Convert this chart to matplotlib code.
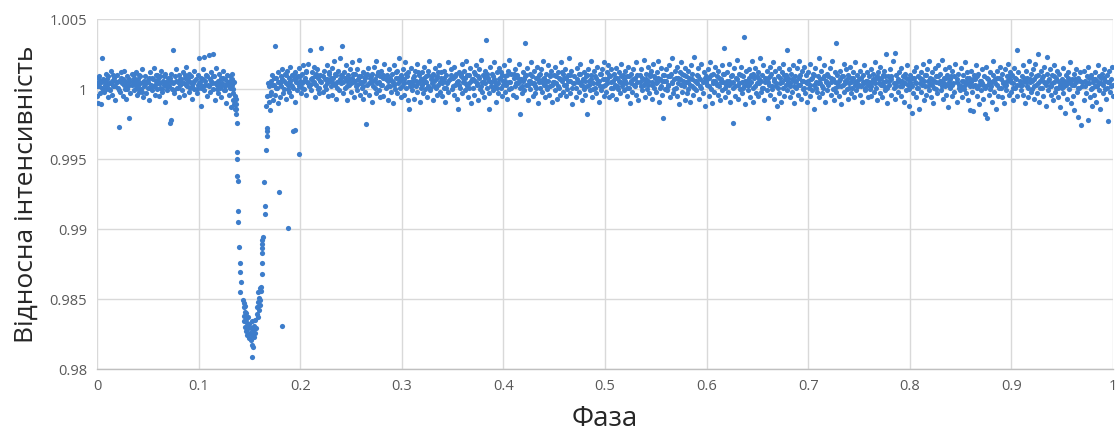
import numpy as np
import matplotlib
matplotlib.use("Agg")
import matplotlib.pyplot as plt

# out-of-transit points: (phase * 1000, (flux - 1) * 10000)
baseline = [
    (0,4),(0,-5),(1,8),(1,-10),(2,2),(3,6),(3,-3),(4,-11),(5,22),(5,1),(6,7),(7,-2),(8,5),(9,11),(9,0),
    (10,3),(11,-6),(11,9),(12,4),(13,-1),(14,13),(15,6),(15,-4),(16,2),(17,8),(18,-8),(19,5),
    (20,10),(21,1),(22,-27),(22,6),(23,-2),(24,12),(25,4),(26,-5),(26,7),(27,13),(28,0),(29,3),(29,-7),
    (30,9),(31,2),(32,-21),(32,5),(33,-3),(34,11),(35,6),(36,-1),(36,8),(37,3),(38,12),(39,-4),(39,1),
    (40,7),(41,-2),(41,10),(42,4),(43,0),(44,14),(45,5),(45,-6),(46,2),(47,9),(48,-3),(49,6),
    (50,1),(51,8),(51,-8),(52,12),(53,3),(54,-1),(55,7),(56,15),(56,2),(57,-4),(58,6),(59,10),(59,0),
    (60,4),(61,-5),(62,9),(62,1),(63,13),(64,-2),(65,6),(66,3),(67,-9),(67,11),(68,5),(69,-1),
    (70,8),(71,2),(72,-24),(72,6),(73,-22),(73,11),(74,0),(75,28),(75,4),(76,-3),(77,9),(78,14),(79,1),
    (80,5),(81,-6),(81,10),(82,3),(83,7),(84,-1),(85,12),(86,4),(86,-4),(87,8),(88,16),(89,2),
    (90,6),(91,-2),(91,11),(92,1),(93,9),(94,-7),(95,4),(96,13),(96,0),(97,7),(98,-3),(99,10),(99,3),
    (100,22),(101,5),(102,-12),(102,8),(103,2),(104,14),(105,23),(105,-1),(106,6),(107,10),(108,-5),(109,3),
    (110,24),(111,7),(111,-2),(112,12),(113,4),(114,25),(114,0),(115,9),(116,-8),(117,15),(118,3),(119,6),(119,-3),
    (120,11),(121,1),(122,8),(122,-6),(123,4),(124,13),(125,-1),(126,7),(126,2),(127,-10),(128,10),(129,5),
    (130,-4),(131,9),(131,1),(132,6),(132,-13),(133,3),(133,11),(134,-8),(134,0),(135,-11),(135,5),(136,-14),(136,-5),
    (166,-12),(167,-5),(168,4),(169,-9),(169,2),
    (170,-15),(171,6),(171,-2),(172,10),(173,-8),(174,3),(175,31),(175,-4),(176,8),(177,1),(178,12),(178,-10),(179,5),
    (180,-6),(181,9),(181,2),(182,14),(183,-3),(184,6),(185,11),(186,-7),(186,4),(187,13),(188,0),(189,8),(189,-2),
    (190,16),(191,3),(191,-5),(192,10),(193,1),(194,7),(195,-9),(195,12),(196,5),(197,-1),(198,9),(199,15),(199,2),
    (200,6),(201,-3),(202,11),(202,4),(203,17),(204,0),(205,8),(206,13),(206,-4),(207,5),(208,18),(209,2),
    (210,28),(211,7),(211,-1),(212,12),(213,4),(214,16),(215,9),(215,-6),(216,3),(217,14),(218,8),(219,1),(219,-3),
    (220,10),(221,29),(221,5),(222,-2),(223,13),(224,7),(225,0),(226,17),(226,4),(227,-5),(228,11),(229,6),
    (230,2),(231,15),(231,-4),(232,8),(233,20),(234,3),(235,-7),(235,10),(236,5),(237,13),(238,-1),(239,7),(239,22),
    (240,4),(241,31),(241,9),(242,-3),(243,12),(244,1),(245,17),(246,6),(246,-8),(247,10),(248,3),(249,14),
    (250,-2),(251,8),(251,19),(252,5),(253,-6),(254,11),(255,2),(256,14),(256,-1),(257,7),(258,21),(259,4),(259,-4),
    (260,9),(261,1),(262,12),(262,-7),(263,6),(264,-2),(265,-25),(265,10),(266,3),(267,15),(268,-4),(269,8),
    (270,5),(271,-9),(271,11),(272,2),(273,16),(274,7),(275,-3),(275,20),(276,4),(277,12),(278,-1),(279,9),(279,-6),
    (280,13),(281,3),(282,-5),(282,8),(283,18),(284,1),(285,10),(286,-8),(286,6),(287,14),(288,2),(289,-2),
    (290,11),(291,5),(291,-10),(292,17),(293,0),(294,8),(295,13),(295,-3),(296,4),(297,22),(298,6),(299,-6),(299,10),
    (300,2),(301,14),(302,-4),(302,7),(303,19),(304,1),(305,9),(306,-8),(306,12),(307,-14),(308,5),(309,15),
    (310,-1),(311,8),(311,3),(312,-7),(313,13),(314,6),(315,-2),(315,18),(316,4),(317,10),(318,-9),(319,7),(319,1),
    (320,12),(321,-3),(322,16),(322,5),(323,0),(324,9),(325,-6),(326,13),(326,2),(327,20),(328,-1),(329,7),
    (330,4),(331,11),(331,-8),(332,6),(333,15),(334,1),(335,-4),(335,9),(336,3),(337,17),(338,-2),(339,8),(339,12),
    (340,-5),(341,6),(342,13),(342,1),(343,-9),(344,10),(345,4),(346,19),(346,-2),(347,7),(348,14),(349,0),
    (350,8),(351,-4),(351,16),(352,3),(353,11),(354,-7),(355,-14),(355,6),(356,12),(357,1),(358,9),(359,-3),(359,18),
    (360,5),(361,13),(362,-1),(362,8),(363,20),(364,2),(365,-6),(366,10),(366,4),(367,15),(368,-10),(369,7),
    (370,1),(371,12),(371,-4),(372,6),(373,17),(374,3),(375,-8),(375,9),(376,14),(377,0),(378,21),(379,5),(379,-2),
    (380,10),(381,-6),(382,4),(382,13),(383,35),(384,1),(385,8),(386,-3),(386,-14),(387,16),(388,5),(389,11),
    (390,-1),(391,7),(391,19),(392,2),(393,-9),(394,12),(395,4),(395,-3),(396,15),(397,8),(398,1),(399,-5),(399,10),
    (400,6),(401,17),(402,-2),(402,9),(403,3),(404,-7),(405,13),(406,0),(406,21),(407,5),(408,11),(409,-4),
    (410,8),(411,2),(411,14),(412,-6),(413,10),(414,4),(415,18),(416,-18),(416,1),(417,7),(418,-3),(419,12),(419,6),
    (420,-1),(421,33),(421,9),(422,3),(423,15),(424,-8),(425,6),(426,11),(426,0),(427,19),(428,4),(429,-5),
    (430,13),(431,2),(431,-3),(432,8),(433,16),(434,-10),(435,5),(435,10),(436,1),(437,14),(438,-2),(439,7),(439,20),
    (440,3),(441,-6),(442,11),(442,6),(443,0),(444,17),(445,-4),(446,9),(446,2),(447,13),(448,-9),(449,5),
    (450,10),(451,-1),(451,16),(452,4),(453,-7),(454,12),(455,1),(455,8),(456,-4),(457,19),(458,6),(459,-2),(459,11),
    (460,3),(461,14),(462,-5),(462,8),(463,0),(464,10),(465,22),(466,-3),(466,6),(467,13),(468,-11),(469,4),
    (470,9),(471,1),(471,-6),(472,15),(473,5),(474,-2),(475,11),(475,18),(476,3),(477,-8),(478,7),(479,12),(479,0),
    (480,-4),(481,9),(482,-18),(482,2),(483,14),(484,6),(485,-1),(486,10),(486,20),(487,-6),(488,4),(489,13),
    (490,1),(491,-3),(491,8),(492,16),(493,5),(494,-9),(495,11),(495,2),(496,-1),(497,14),(498,7),(499,-5),(499,19),
    (500,7),(501,-2),(502,12),(502,4),(503,17),(504,-6),(505,9),(506,1),(506,14),(507,-4),(508,6),(509,11),
    (510,3),(511,15),(511,-7),(512,8),(513,0),(514,12),(515,5),(515,-3),(516,18),(517,2),(518,10),(519,-1),(519,7),
    (520,13),(521,4),(522,-5),(522,9),(523,16),(524,1),(525,-10),(526,6),(526,11),(527,-2),(528,14),(529,3),
    (530,8),(531,-4),(531,19),(532,5),(533,-8),(534,10),(535,2),(535,14),(536,-1),(537,7),(538,21),(539,4),(539,-6),
    (540,11),(541,0),(542,16),(542,6),(543,-3),(544,9),(545,13),(546,-7),(546,3),(547,18),(548,1),(549,8),
    (550,-2),(551,12),(551,5),(552,20),(553,-9),(554,7),(555,2),(555,15),(556,-4),(557,-21),(557,10),(558,6),(559,0),
    (560,14),(561,-1),(562,9),(562,3),(563,17),(564,-6),(565,11),(566,4),(566,22),(567,-3),(568,7),(569,13),
    (570,1),(571,16),(571,-5),(572,8),(573,-11),(574,12),(575,3),(575,19),(576,-2),(577,6),(578,10),(579,-8),(579,15),
    (580,5),(581,-3),(582,13),(582,0),(583,8),(584,-9),(585,17),(586,2),(586,11),(587,-4),(588,23),(589,6),
    (590,-1),(591,10),(591,4),(592,15),(593,-7),(594,7),(595,1),(595,18),(596,-3),(597,12),(598,-12),(599,5),(599,9),
    (600,3),(601,14),(602,-5),(602,8),(603,19),(604,0),(605,-10),(606,11),(606,6),(607,-2),(608,16),(609,4),
    (610,9),(611,-4),(611,13),(612,2),(613,-8),(614,7),(615,17),(615,-1),(616,5),(617,29),(617,11),(618,-6),(619,3),
    (620,12),(621,-2),(622,6),(622,18),(623,-9),(624,4),(625,10),(626,-24),(626,1),(627,15),(628,-5),(629,8),
    (630,21),(631,3),(631,-7),(632,11),(633,0),(634,16),(635,5),(635,-3),(636,9),(637,37),(637,2),(638,-11),(639,13),
    (640,6),(641,-1),(642,14),(642,3),(643,-6),(644,10),(645,20),(646,1),(646,-9),(647,8),(648,15),(649,-3),
    (650,4),(651,12),(651,-5),(652,7),(653,22),(654,-2),(655,10),(655,1),(656,17),(657,-8),(658,5),(659,13),(659,-1),
    (660,-21),(660,8),(661,3),(662,16),(662,-4),(663,11),(664,0),(665,19),(666,-7),(666,6),(667,13),(668,2),(669,-12),
    (670,9),(671,-3),(671,15),(672,4),(673,-9),(674,12),(675,1),(675,18),(676,-5),(677,7),(678,10),(679,28),(679,-1),
    (680,5),(681,14),(682,-6),(682,2),(683,11),(684,-2),(685,17),(686,6),(686,-10),(687,9),(688,1),(689,15),
    (690,-4),(691,8),(691,20),(692,3),(693,-7),(694,13),(695,0),(695,6),(696,16),(697,-3),(698,10),(699,4),(699,-9),
    (700,12),(701,1),(702,-5),(702,18),(703,7),(704,-1),(705,11),(706,3),(706,-14),(707,15),(708,5),(709,-2),
    (710,9),(711,22),(711,-6),(712,4),(713,13),(714,-3),(715,8),(715,1),(716,17),(717,-9),(718,6),(719,11),(719,-1),
    (720,3),(721,15),(722,-4),(722,8),(723,20),(724,0),(725,-8),(726,12),(726,5),(727,33),(727,-2),(728,10),(729,2),
    (730,-5),(731,13),(731,7),(732,-11),(733,9),(734,3),(735,18),(735,-2),(736,6),(737,14),(738,0),(739,-7),(739,10),
    (740,4),(741,16),(742,-3),(742,8),(743,1),(744,12),(745,-6),(746,19),(746,5),(747,-1),(748,10),(749,2),
    (750,7),(751,-4),(751,13),(752,2),(753,-9),(754,10),(755,4),(755,17),(756,-1),(757,6),(758,12),(759,-6),(759,3),
    (760,9),(761,0),(762,14),(762,-5),(763,5),(764,11),(765,-2),(766,7),(766,19),(767,1),(768,-8),(769,12),
    (770,4),(771,-3),(771,16),(772,8),(773,-6),(774,10),(775,2),(775,13),(776,-1),(777,25),(777,6),(778,-10),(779,9),
    (780,3),(781,14),(782,-4),(782,7),(783,20),(784,1),(785,26),(785,-7),(786,10),(787,5),(788,-2),(789,12),
    (790,6),(791,-5),(791,15),(792,2),(793,9),(794,-9),(795,11),(795,4),(796,-1),(797,17),(798,7),(799,-12),(799,0),
    (800,10),(801,3),(802,-17),(802,8),(803,-3),(804,13),(805,5),(806,-6),(806,16),(807,1),(808,9),(809,-14),
    (810,4),(811,12),(811,-2),(812,7),(813,18),(814,-8),(815,2),(815,10),(816,-4),(817,14),(818,6),(819,-1),(819,20),
    (820,8),(821,-6),(822,3),(822,12),(823,-10),(824,6),(825,15),(826,0),(826,9),(827,-3),(828,17),(829,4),
    (830,11),(831,-1),(831,6),(832,21),(833,-7),(834,8),(835,2),(835,14),(836,-4),(837,10),(838,-13),(839,5),(839,16),
    (840,1),(841,9),(842,-5),(842,13),(843,4),(844,-2),(845,18),(846,7),(846,-9),(847,11),(848,3),(849,-1),
    (850,15),(851,6),(851,-6),(852,10),(853,0),(854,19),(855,-3),(855,5),(856,12),(857,-8),(858,8),(859,2),(859,-15),
    (860,13),(861,-2),(862,7),(862,-16),(863,10),(864,3),(865,17),(866,-5),(866,1),(867,11),(868,-11),(869,6),
    (870,-1),(871,14),(871,4),(872,-7),(873,9),(874,-18),(875,2),(875,16),(876,-21),(877,7),(878,-4),(879,12),(879,0),
    (880,5),(881,-9),(882,10),(882,20),(883,-2),(884,7),(885,-14),(886,13),(886,3),(887,-5),(888,8),(889,16),
    (890,1),(891,-6),(891,11),(892,5),(893,-10),(894,14),(895,3),(895,-1),(896,9),(897,18),(898,-4),(899,7),(899,12),
    (900,-2),(901,10),(902,4),(902,-8),(903,15),(904,1),(905,7),(906,28),(906,-5),(907,12),(908,3),(909,-1),
    (910,9),(911,17),(911,-4),(912,6),(913,-10),(914,13),(915,2),(915,8),(916,-6),(917,20),(918,5),(919,-2),(919,11),
    (920,0),(921,14),(922,-7),(922,7),(923,18),(924,3),(925,-3),(926,10),(926,25),(927,-9),(928,6),(929,13),
    (930,1),(931,-5),(931,9),(932,16),(933,4),(934,-12),(935,11),(935,23),(936,-1),(937,7),(938,14),(939,-4),(939,2),
    (940,10),(941,-8),(942,5),(942,17),(943,-2),(944,8),(945,13),(946,-6),(946,1),(947,11),(948,-13),(949,4),
    (950,7),(951,15),(951,-3),(952,2),(953,-17),(954,10),(955,5),(955,-7),(956,12),(957,0),(958,19),(959,-10),(959,6),
    (960,3),(961,-5),(962,11),(962,-15),(963,7),(964,14),(965,-2),(966,8),(966,-20),(967,1),(968,12),(969,-26),
    (970,5),(971,-8),(971,13),(972,2),(973,-3),(974,9),(975,-22),(975,16),(976,4),(977,-6),(978,10),(979,1),(979,-12),
    (980,7),(981,-4),(982,12),(982,2),(983,-9),(984,6),(985,17),(986,-1),(986,9),(987,-14),(988,4),(989,11),
    (990,-3),(991,8),(991,14),(992,0),(993,-7),(994,10),(995,-23),(995,5),(996,13),(997,-2),(998,7),(999,16),(1000,3),(1000,-5),
]

# dense core of the baseline, same units
baseline_core = [
    (0,2),(2,9),(4,5),(6,-1),(8,3),(10,7),(12,0),(14,4),(16,10),(18,2),
    (20,5),(22,-1),(24,8),(27,3),(28,6),(30,0),(32,7),(34,3),(36,11),(38,5),
    (40,2),(42,9),(44,-2),(46,6),(48,4),(50,5),(52,1),(54,8),(57,3),(58,10),
    (60,7),(62,4),(64,0),(66,9),(68,2),(70,3),(72,8),(74,5),(76,-1),(78,6),
    (80,1),(82,7),(84,4),(87,10),(88,3),(90,8),(92,5),(94,2),(96,6),(98,0),
    (100,4),(102,1),(104,7),(106,3),(108,9),(110,2),(112,6),(114,9),(116,4),(118,0),
    (120,5),(122,2),(124,8),(126,-1),(128,4),(130,3),(131,6),(132,1),(133,7),(134,-3),
    (170,-4),(172,3),(174,8),(176,1),(178,5),(180,4),(182,7),(184,0),(186,10),(188,3),
    (190,6),(192,2),(194,11),(196,8),(198,4),(200,9),(202,1),(204,6),(206,12),(208,4),
    (210,3),(212,8),(214,5),(216,11),(218,0),(220,6),(222,9),(224,2),(226,7),(228,12),
    (230,8),(232,4),(234,11),(236,1),(238,6),(240,10),(242,5),(244,8),(246,2),(248,7),
    (250,4),(252,11),(254,6),(256,3),(258,9),(260,5),(262,2),(264,8),(266,11),(268,4),
    (270,9),(272,6),(274,1),(276,10),(278,5),(280,3),(282,10),(284,7),(286,2),(288,8),
    (290,6),(292,3),(294,12),(296,8),(298,1),(300,8),(302,4),(304,11),(306,5),(308,2),
    (310,5),(312,9),(314,2),(316,12),(318,6),(320,3),(322,8),(324,5),(326,10),(328,1),
    (330,9),(332,2),(334,7),(336,12),(338,5),(340,4),(342,8),(344,1),(346,6),(348,10),
    (350,2),(352,9),(354,5),(356,3),(358,11),(360,8),(362,4),(364,10),(366,1),(368,6),
    (370,7),(372,11),(374,4),(376,8),(378,2),(380,5),(382,8),(384,11),(386,6),(388,2),
    (390,9),(392,5),(394,1),(396,7),(398,12),(400,3),(402,6),(404,10),(406,5),(408,1),
    (410,11),(412,4),(414,8),(416,6),(418,2),(420,7),(422,10),(424,3),(426,6),(428,9),
    (430,4),(432,1),(434,7),(436,11),(438,5),(440,8),(442,2),(444,6),(446,10),(448,3),
    (450,5),(452,9),(454,2),(456,7),(458,12),(460,8),(462,3),(464,6),(466,10),(468,1),
    (470,4),(472,7),(474,11),(476,5),(478,2),(480,6),(482,10),(484,3),(486,7),(488,0),
    (490,9),(492,4),(494,6),(496,11),(498,2),(500,3),(502,7),(504,10),(506,5),(508,1),
    (510,8),(512,2),(514,6),(516,9),(518,4),(520,6),(522,1),(524,9),(526,4),(528,7),
    (530,2),(532,10),(534,5),(536,8),(538,3),(540,7),(542,3),(544,11),(546,5),(548,9),
    (550,4),(552,8),(554,1),(556,6),(558,10),(560,6),(562,2),(564,9),(566,5),(568,0),
    (570,8),(572,4),(574,7),(576,11),(578,2),(580,9),(582,5),(584,3),(586,7),(588,1),
    (590,6),(592,9),(594,2),(596,5),(598,8),(600,7),(602,2),(604,10),(606,4),(608,6),
    (610,3),(612,8),(614,5),(616,11),(618,1),(620,6),(622,3),(624,9),(626,5),(628,2),
    (630,7),(632,4),(634,10),(636,1),(638,6),(640,3),(642,8),(644,5),(646,11),(648,2),
    (650,9),(652,4),(654,6),(656,1),(658,8),(660,5),(662,9),(664,2),(666,7),(668,4),
    (670,1),(672,8),(674,5),(676,10),(678,3),(680,8),(682,4),(684,7),(686,2),(688,6),
    (690,3),(692,10),(694,6),(696,1),(698,5),(700,6),(702,3),(704,8),(706,10),(708,1),
    (710,4),(712,7),(714,2),(716,9),(718,5),(720,9),(722,5),(724,7),(726,1),(728,4),
    (730,6),(732,2),(734,9),(736,4),(738,7),(740,1),(742,5),(744,8),(746,3),(748,6),
    (750,3),(752,8),(754,5),(756,1),(758,6),(760,5),(762,2),(764,7),(766,4),(768,9),
    (770,7),(772,3),(774,5),(776,9),(778,1),(780,6),(782,9),(784,4),(786,2),(788,7),
    (790,2),(792,6),(794,4),(796,8),(798,3),(800,5),(802,2),(804,8),(806,4),(808,1),
    (810,8),(812,3),(814,6),(816,10),(818,2),(820,4),(822,7),(824,1),(826,5),(828,9),
    (830,6),(832,2),(834,4),(836,8),(838,3),(840,7),(842,3),(844,9),(846,5),(848,1),
    (850,2),(852,6),(854,3),(856,8),(858,4),(860,5),(862,2),(864,7),(866,9),(868,3),
    (870,6),(872,3),(874,1),(876,8),(878,4),(880,2),(882,6),(884,4),(886,8),(888,1),
    (890,7),(892,4),(894,2),(896,6),(898,9),(900,5),(902,1),(904,8),(906,3),(908,6),
    (910,3),(912,8),(914,5),(916,1),(918,7),(920,6),(922,2),(924,9),(926,4),(928,1),
    (930,8),(932,5),(934,3),(936,6),(938,2),(940,4),(942,9),(944,1),(946,6),(948,3),
    (950,1),(952,6),(954,3),(956,8),(958,4),(960,7),(962,3),(964,5),(966,1),(968,6),
    (970,2),(972,6),(974,4),(976,8),(978,0),(980,5),(982,7),(984,2),(986,4),(988,8),
    (990,3),(992,6),(994,1),(996,5),(998,2),
]

# transit points
dip_phase = [
    0.1365, 0.1368, 0.1370, 0.1372, 0.1378, 0.1381, 0.1381, 0.1382, 0.1388, 0.1387,
    0.1389, 0.1395, 0.1407, 0.1408, 0.1413, 0.1410,
    0.1440, 0.1446, 0.1452, 0.1443, 0.1458, 0.1449, 0.1462, 0.1465, 0.1471, 0.1456,
    0.1476, 0.1468, 0.1483, 0.1480, 0.1490, 0.1494, 0.1500, 0.1507, 0.1512, 0.1518,
    0.1524, 0.1530, 0.1537, 0.1543, 0.1548, 0.1553, 0.1560, 0.1566, 0.1572, 0.1578,
    0.1583, 0.1589, 0.1594, 0.1598, 0.1603, 0.1587, 0.1600,
    0.1522, 0.1539, 0.1522,
    0.1622, 0.1624, 0.1626, 0.1627, 0.1628, 0.1629, 0.1630, 0.1612, 0.1610, 0.1605,
    0.1650, 0.1651, 0.1648, 0.1665, 0.1671, 0.1669, 0.1672,
    0.1795, 0.1880, 0.1824, 0.1932, 0.1945, 0.1985,
]
dip_flux = [
    0.9993, 0.9989, 0.9986, 0.9982, 0.99759, 0.99552, 0.9950, 0.99379, 0.99345, 0.99129,
    0.99052, 0.98874, 0.98755, 0.98691, 0.98624, 0.98548,
    0.9849, 0.9844, 0.9847, 0.9838, 0.9841, 0.9834, 0.9845, 0.9836, 0.9840, 0.9830,
    0.9833, 0.9827, 0.9837, 0.9824, 0.9829, 0.9822, 0.9832, 0.9826, 0.9821, 0.9829,
    0.9824, 0.9834, 0.9828, 0.9823, 0.9831, 0.9826, 0.9835, 0.9829, 0.9839, 0.9844,
    0.9837, 0.9848, 0.9842, 0.9851, 0.9846, 0.9855, 0.9858,
    0.98171, 0.98159, 0.98088,
    0.98676, 0.98755, 0.98826, 0.98862, 0.98893, 0.98921, 0.98945, 0.98583, 0.98560, 0.98493,
    0.99107, 0.99164, 0.99336, 0.99564, 0.99664, 0.99700, 0.99719,
    0.99262, 0.99007, 0.98309, 0.99702, 0.99710, 0.99533,
]

base = np.array(baseline + baseline_core, dtype=float)
phase = np.concatenate([base[:, 0] / 1000.0, dip_phase])
flux = np.concatenate([1.0 + base[:, 1] / 10000.0, dip_flux])

xticks = [0, 0.1, 0.2, 0.3, 0.4, 0.5, 0.6, 0.7, 0.8, 0.9, 1]
xlabels = ["0", "0.1", "0.2", "0.3", "0.4", "0.5", "0.6", "0.7", "0.8", "0.9", "1"]
yticks = [0.98, 0.985, 0.99, 0.995, 1.0, 1.005]
ylabels = ["0.98", "0.985", "0.99", "0.995", "1", "1.005"]

plt.rcParams['font.family'] = ['Open Sans', 'DejaVu Sans']

fig = plt.figure(figsize=(11.17, 4.37), dpi=100)
ax = fig.add_axes([0.0868, 0.1556, 0.9096, 0.8009])

ax.scatter(phase, flux, s=14, color='#3d7dcb', linewidths=0, zorder=3)

ax.set_xlim(0, 1)
ax.set_ylim(0.98, 1.005)
ax.set_xticks(xticks)
ax.set_xticklabels(xlabels)
ax.set_yticks(yticks)
ax.set_yticklabels(ylabels)
ax.tick_params(length=0, labelsize=10.5, colors='#595959', pad=7)
ax.grid(True, color='#d9d9d9', linewidth=1)
for side in ['left', 'top', 'right']:
    ax.spines[side].set_visible(False)
ax.spines['bottom'].set_color('#bfbfbf')
ax.spines['bottom'].set_linewidth(1)

ax.set_xlabel("Фаза", fontsize=20, color='#262626', labelpad=8)
ax.set_ylabel("Відносна інтенсивність", fontsize=19, color='#262626', labelpad=8)

fig.savefig("out.png", dpi=100)
